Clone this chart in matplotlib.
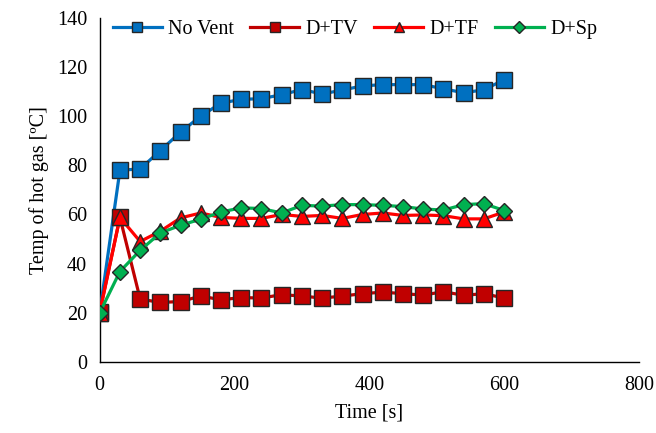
import matplotlib
matplotlib.use("Agg")
import matplotlib.pyplot as plt

plt.rcParams['font.family'] = ['Liberation Serif', 'DejaVu Serif']

time_s = [0, 30, 60, 90, 120, 150, 180, 210, 240, 270, 300, 330, 360, 390, 420, 450, 480, 510, 540, 570, 600]
no_vent = [20.0, 78.0, 78.5, 86.0, 93.5, 100.0, 105.3, 106.8, 107.1, 108.7, 110.8, 109.0, 110.6, 112.3, 112.8, 112.8, 112.8, 111.1, 109.5, 110.7, 114.8]
d_tv = [20.4, 58.8, 25.6, 24.2, 24.6, 26.8, 25.3, 26.2, 26.0, 27.4, 26.8, 26.0, 26.8, 27.8, 28.4, 27.8, 27.2, 28.6, 27.1, 27.8, 26.0]
d_tf = [20.0, 58.8, 49.0, 53.2, 58.6, 60.6, 58.8, 58.4, 58.4, 60.0, 59.2, 59.6, 58.4, 60.0, 60.6, 59.6, 59.8, 59.5, 58.2, 58.2, 61.0]
d_sp = [20.0, 36.8, 45.4, 52.5, 55.6, 58.1, 61.0, 62.7, 62.4, 60.6, 63.7, 63.4, 64.0, 64.0, 63.7, 63.2, 62.2, 61.8, 64.0, 64.4, 61.6]

series_names = ["No Vent", "D+TV", "D+TF", "D+Sp"]
x_ticks = [0, 200, 400, 600, 800]
y_ticks = [0, 20, 40, 60, 80, 100, 120, 140]

fig = plt.figure(figsize=(6.56, 4.33), dpi=100)
ax = fig.add_axes([0.152, 0.164, 0.822, 0.795])

fs = 14.5
lw = 2.3
ec = '#262626'
ax.plot(time_s, no_vent, color='#0070C0', lw=lw, marker='s', ms=11.5,
        mfc='#0070C0', mec=ec, mew=1.0, label=series_names[0], zorder=3)
ax.plot(time_s, d_tv, color='#C00000', lw=lw, marker='s', ms=11,
        mfc='#C00000', mec=ec, mew=1.0, label=series_names[1], zorder=4)
ax.plot(time_s, d_tf, color='#FF0000', lw=lw, marker='^', ms=11,
        mfc='#FF0000', mec=ec, mew=1.0, label=series_names[2], zorder=5)
ax.plot(time_s, d_sp, color='#00B050', lw=lw, marker='D', ms=8.5,
        mfc='#00B050', mec=ec, mew=1.0, label=series_names[3], zorder=6)

ax.set_xlim(0, 800)
ax.set_ylim(0, 140)
ax.set_xticks(x_ticks)
ax.set_yticks(y_ticks)
ax.tick_params(length=0, labelsize=fs, pad=10)
ax.tick_params(axis='y', pad=9)
for s in ['top', 'right']:
    ax.spines[s].set_visible(False)
for s in ['left', 'bottom']:
    ax.spines[s].set_linewidth(1.0)
    ax.spines[s].set_color('black')

ax.set_xlabel("Time [s]", fontsize=fs, labelpad=6)
ax.set_ylabel("Temp of hot gas [ºC]", fontsize=fs, labelpad=6)

leg = fig.legend(loc='center', bbox_to_anchor=(0.541, 0.931), ncol=4, frameon=False,
                 fontsize=fs, handlelength=2.45, handletextpad=0.3, columnspacing=0.8,
                 markerscale=0.68, borderpad=0)

fig.savefig("out.png", dpi=100)
